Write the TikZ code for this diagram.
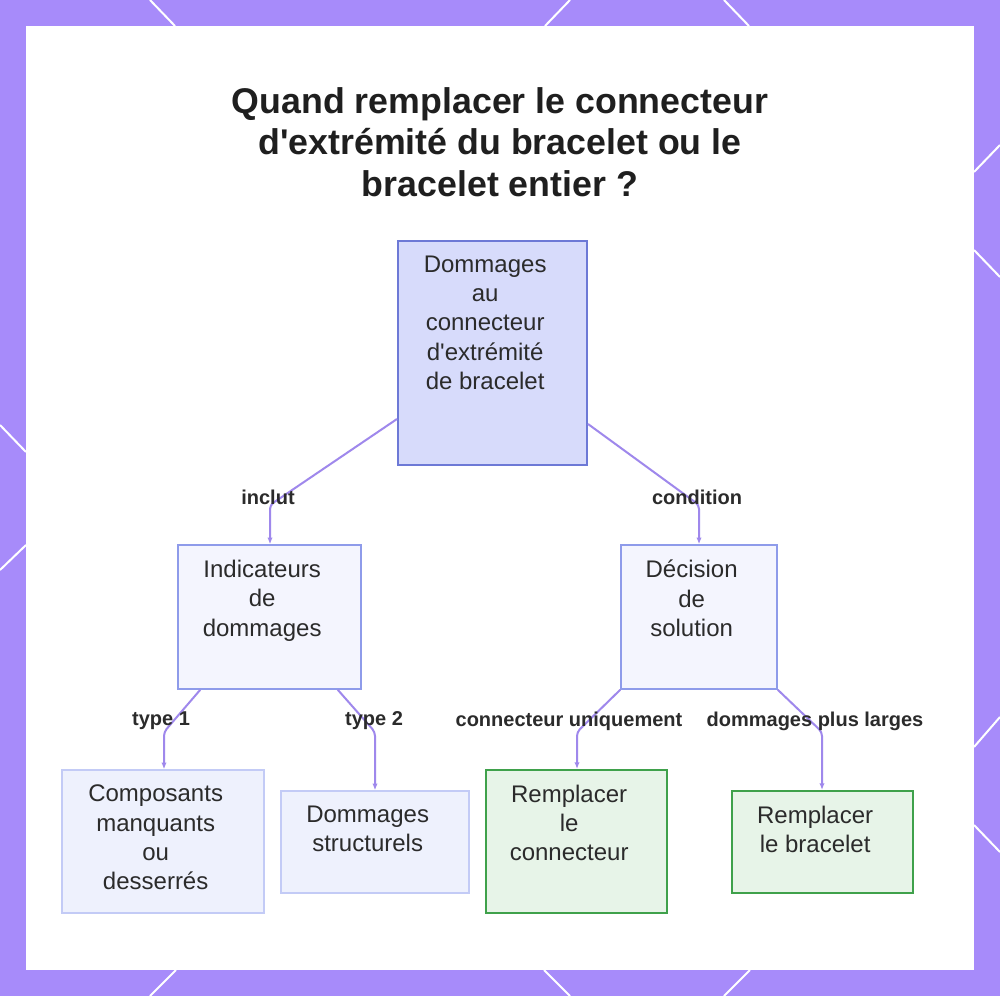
\documentclass[tikz,border=0pt]{standalone}
\usepackage{fontspec}
\setmainfont{Liberation Sans}
\usepackage{tikz}
\usetikzlibrary{arrows.meta,calc}
\usepackage{xcolor}
\definecolor{FrameViolet}{HTML}{A78BFA}
\definecolor{LinkViolet}{HTML}{9F88EC}
\definecolor{RootFill}{HTML}{D7DBFB}
\definecolor{RootBorder}{HTML}{6D79D6}
\definecolor{MidFill}{HTML}{F4F5FE}
\definecolor{MidBorder}{HTML}{8E9BEA}
\definecolor{LeafFill}{HTML}{EEF1FD}
\definecolor{LeafBorder}{HTML}{C3CBF6}
\definecolor{GoFill}{HTML}{E7F4E8}
\definecolor{GoBorder}{HTML}{3FA14B}
\definecolor{InkText}{HTML}{2B2B2B}
\newcommand{\apos}{\textquotesingle}

\begin{document}
\begin{tikzpicture}[
  x=0.75pt,y=-0.75pt,>=Latex,
  link/.style={-{Latex[length=5pt,width=4pt]},draw=LinkViolet,line width=1.5pt,
    rounded corners=3pt},
  boxtext/.style={anchor=north,yshift=-11.6pt,xshift=-5.5pt,align=center,
    inner sep=0pt,text=InkText,font=\fontsize{18}{22}\selectfont},
  box/.style={draw,inner sep=0pt,line width=1.1pt},
  rootbox/.style={box,draw=RootBorder,fill=RootFill,line width=1.5pt},
  midbox/.style={box,draw=MidBorder,fill=MidFill},
  leafbox/.style={box,draw=LeafBorder,fill=LeafFill},
  gobox/.style={box,draw=GoBorder,fill=GoFill,line width=1.5pt},
  edgelabel/.style={inner sep=1pt,text=InkText,
    font=\bfseries\fontsize{15}{17}\selectfont},
  heading/.style={align=center,text=black!88,
    font=\bfseries\fontsize{26.8}{31}\selectfont}
]

% frame and panel
\useasboundingbox (0,0) rectangle (1000,996);
\fill[FrameViolet] (0,0) rectangle (1000,996);
\fill[white] (26,26) rectangle (974,970);
\foreach \ax/\ay/\bx/\by in {150/0/175/26, 570/0/545/26, 724/0/749/26,
    176/970/150/996, 544/970/570/996, 750/970/724/996,
    0/425/26/452, 26/545/0/570,
    974/172/1000/145, 974/250/1000/277, 974/747/1000/717, 974/825/1000/852}
  \draw[white,line width=1.5pt] (\ax,\ay) -- (\bx,\by);

\node[heading] (title) at (500,142)
  {Quand remplacer le connecteur\\d\apos extrémité du bracelet ou le\\bracelet entier ?};

% nodes
\node[rootbox,minimum width=141.75pt,minimum height=168pt,
  label={[boxtext]north:{Dommages\\au\\connecteur\\d\apos extrémité\\de bracelet}}]
  (root) at (492.5,353) {};

\node[midbox,minimum width=137.25pt,minimum height=108pt,
  label={[boxtext]north:{Indicateurs\\de\\dommages}}]
  (indic) at (269.5,617) {};
\node[midbox,minimum width=117pt,minimum height=108pt,
  label={[boxtext]north:{Décision\\de\\solution}}]
  (decision) at (699,617) {};

\node[leafbox,minimum width=151.5pt,minimum height=107.25pt,
  label={[boxtext]north:{Composants\\manquants\\ou\\desserrés}}]
  (missing) at (163,841.5) {};
\node[leafbox,minimum width=141pt,minimum height=76.5pt,
  label={[boxtext]north:{Dommages\\structurels}}]
  (structural) at (375,842) {};
\node[gobox,minimum width=135.75pt,minimum height=107.25pt,
  label={[boxtext]north:{Remplacer\\le\\connecteur}}]
  (swapconn) at (576.5,841.5) {};
\node[gobox,minimum width=135.75pt,minimum height=76.5pt,
  label={[boxtext]north:{Remplacer\\le bracelet}}]
  (swapband) at (822.5,842) {};

% connectors
\coordinate (inclutbend) at (270,505);
\coordinate (conditionbend) at (699,505);
\coordinate (typeonebend) at (164,732);
\coordinate (typetwobend) at (375,732);
\coordinate (onlybend) at (577,732);
\coordinate (widerbend) at (822,732);

\draw[link] ($(root.south west)+(0,-47)$) -- (inclutbend) -- (indic.north -| inclutbend);
\draw[link] ($(root.south east)+(0,-42)$) -- (conditionbend) -- (decision.north -| conditionbend);
\draw[link] ($(indic.south west)+(23,0)$) -- (typeonebend) -- (missing.north -| typeonebend);
\draw[link] ($(indic.south east)+(-24,0)$) -- (typetwobend) -- (structural.north -| typetwobend);
\draw[link] (decision.south west) -- (onlybend) -- (swapconn.north -| onlybend);
\draw[link] (decision.south east) -- (widerbend) -- (swapband.north -| widerbend);

% labels
\node[edgelabel] (inclut) at (268,497) {inclut};
\node[edgelabel] (condition) at (697,497) {condition};
\node[edgelabel] (typeone) at (161,721) {type 1};
\node[edgelabel] (typetwo) at (374,721) {type 2};
\node[edgelabel] (only) at (569,721) {connecteur uniquement};
\node[edgelabel] (wider) at (815,721) {dommages plus larges};

\end{tikzpicture}
\end{document}
